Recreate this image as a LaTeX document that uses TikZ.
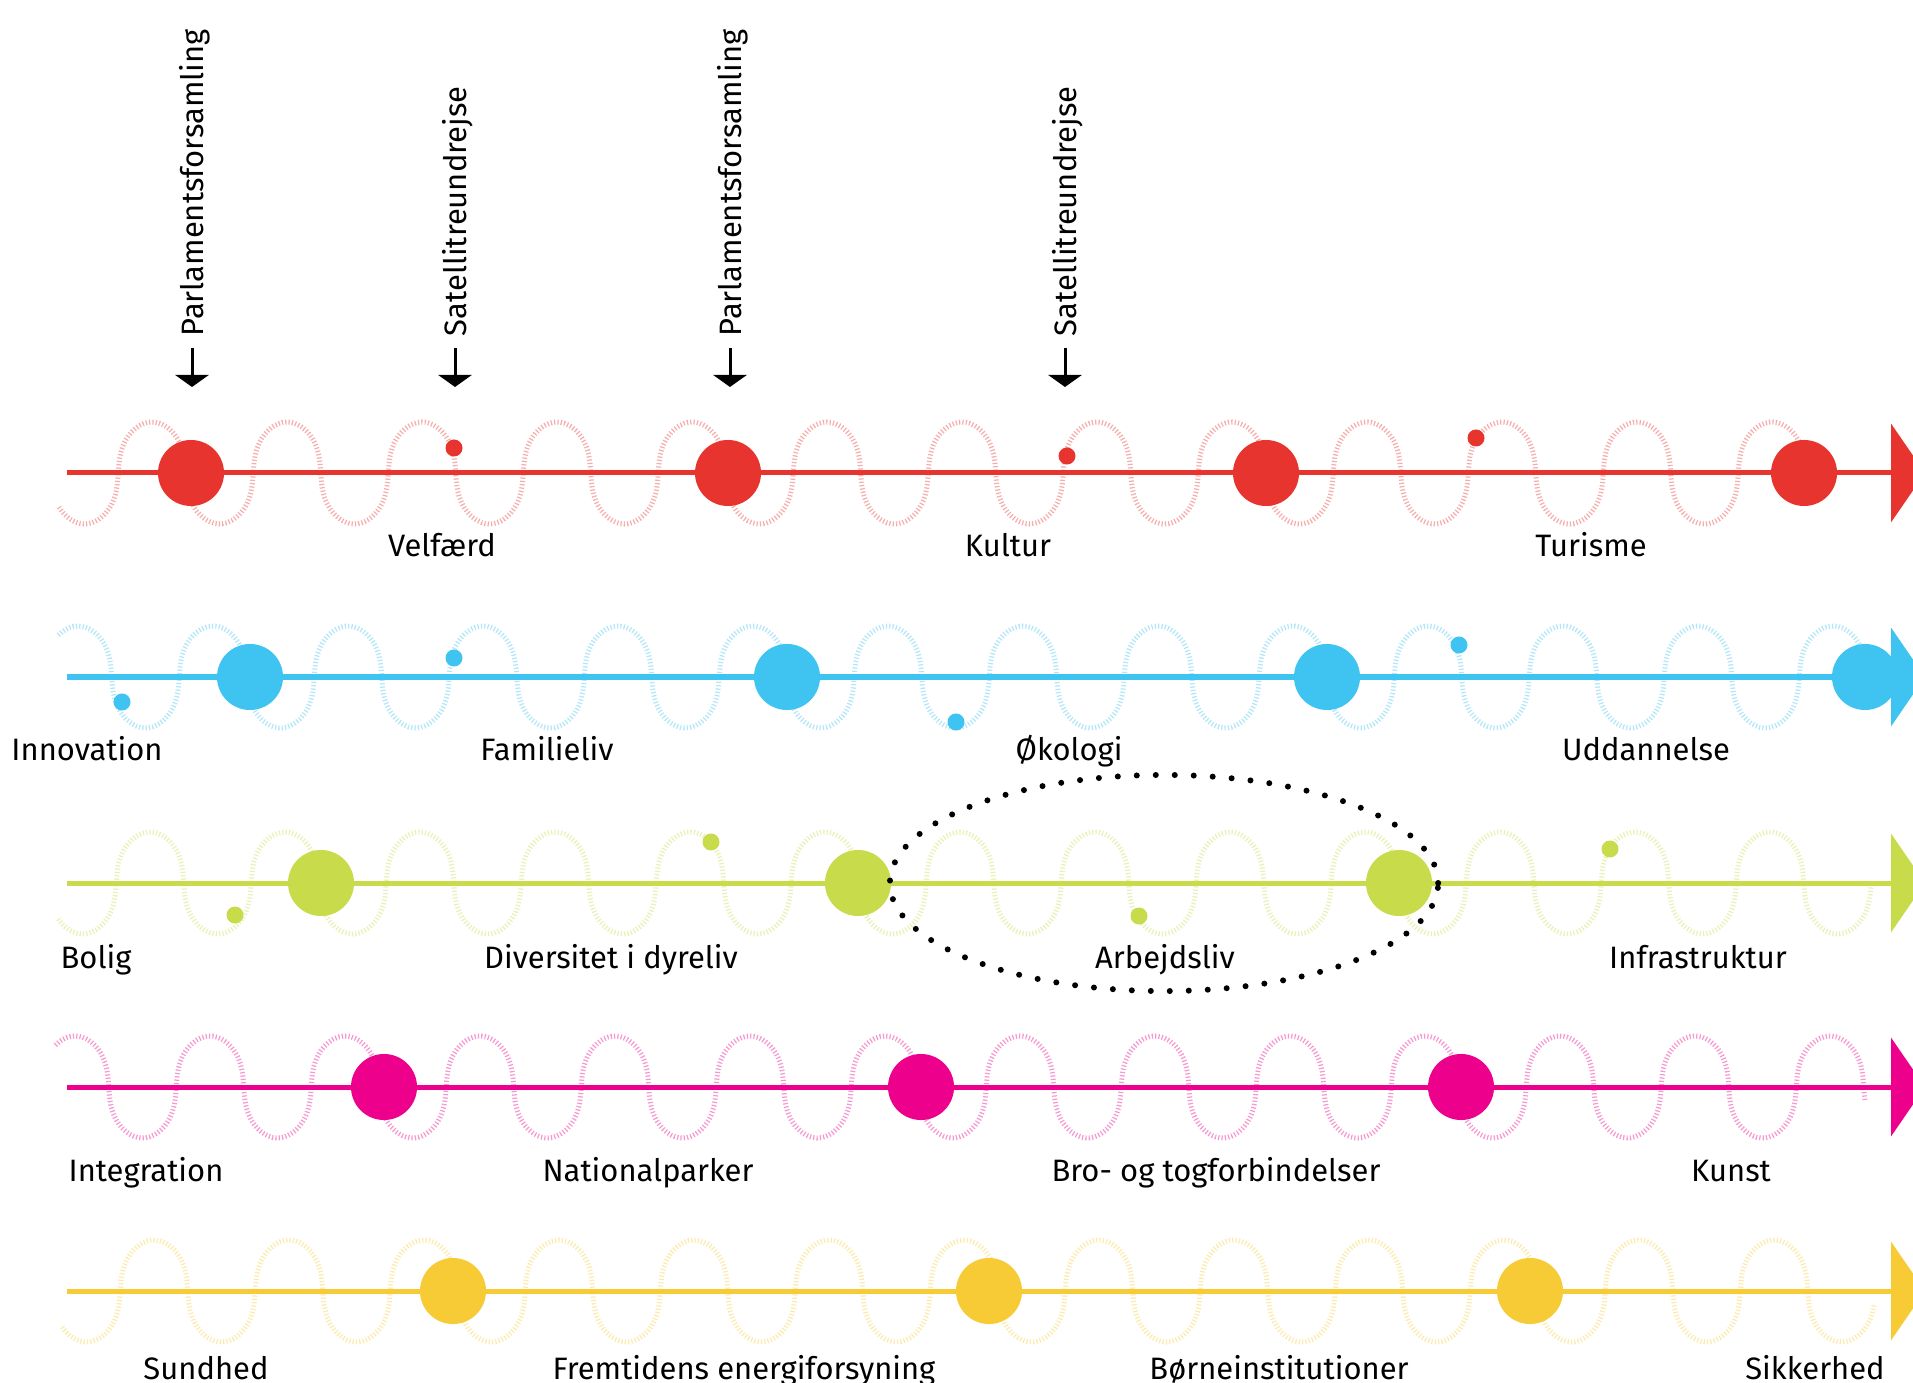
\documentclass[tikz,border=0pt]{standalone}
\usepackage{fontspec}
\setmainfont{Fira Sans}
\usetikzlibrary{arrows.meta}
\usetikzlibrary{shapes.geometric}

\definecolor{rowred}{HTML}{E8342F}
\definecolor{rowblue}{HTML}{3FC4F1}
\definecolor{rowgreen}{HTML}{C8DB4A}
\definecolor{rowpink}{HTML}{EC008C}
\definecolor{rowyellow}{HTML}{F7CB35}

\begin{document}
\begin{tikzpicture}[x=0.01cm,y=-0.01cm,
  font=\fontsize{8.8}{11}\selectfont,
  axis/.style={line width=0.05cm,-{Triangle[length=0.34cm,width=0.98cm]}},
  wave/.style={line width=0.05cm,dash pattern=on 0.35pt off 0.6pt},
  big/.style={circle,inner sep=0pt,minimum size=0.66cm},
  small/.style={circle,inner sep=0pt,minimum size=0.17cm},
  lbl/.style={anchor=base,inner sep=0pt},
  event/.style={rotate=90,anchor=base west,inner sep=0pt},
  marker/.style={line width=0.03cm,-{Triangle[length=0.12cm,width=0.33cm]}},
  focus/.style={ellipse,draw,line width=0.06cm,line cap=round,
    dash pattern=on 0pt off 5.4pt,minimum width=5.48cm,minimum height=2.16cm}]
\useasboundingbox (0,0) rectangle (1913,1383);

% waves and time lines
\foreach \r/\c/\yy/\ph/\ta/\tb in {r/rowred/473/152/-228/4435,b/rowblue/677/78/-35/4779,
    g/rowgreen/883/150/-225/4587,m/rowpink/1087/75/-35/4787,y/rowyellow/1291/154/-225/4576}{
  \draw[wave,\c!40] plot[domain=\ta:\tb,samples=700,smooth,variable=\t]
    ({\ph+0.375*\t+7.4*sin(2*\t)-1.6*sin(2*\t)*cos(2*\t)},{\yy-51*cos(\t)});
  \coordinate (\r-start) at (67,\yy);
  \coordinate (\r-end) at (1925,\yy);
  \draw[axis,\c] (\r-start) -- (\r-end);
}

% big circles
\foreach \cx [count=\i] in {191,728,1266,1804} \node[big,fill=rowred] (r\i) at (\cx,473) {};
\foreach \cx [count=\i] in {250,787,1327,1865} \node[big,fill=rowblue] (b\i) at (\cx,677) {};
\foreach \cx [count=\i] in {321,858,1399} \node[big,fill=rowgreen] (g\i) at (\cx,883) {};
\foreach \cx [count=\i] in {384,921,1461} \node[big,fill=rowpink] (m\i) at (\cx,1087) {};
\foreach \cx [count=\i] in {453,989,1530} \node[big,fill=rowyellow] (y\i) at (\cx,1291) {};

% small dots
\foreach \cx/\cy [count=\i] in {454/448,1067/456,1476/438} \node[small,fill=rowred] (rd\i) at (\cx,\cy) {};
\foreach \cx/\cy [count=\i] in {122/702,454/658,956/722,1459/645} \node[small,fill=rowblue] (bd\i) at (\cx,\cy) {};
\foreach \cx/\cy [count=\i] in {235/915,711/842,1139/916,1610/849} \node[small,fill=rowgreen] (gd\i) at (\cx,\cy) {};

% labels
\node[lbl] (velfaerd) at (442,557) {Velfærd};
\node[lbl] (kultur) at (1008,557) {Kultur};
\node[lbl] (turisme) at (1591,557) {Turisme};
\node[lbl] (innovation) at (87,760) {Innovation};
\node[lbl] (familieliv) at (547,760) {Familieliv};
\node[lbl] (okologi) at (1069,760) {Økologi};
\node[lbl] (uddannelse) at (1646,760) {Uddannelse};
\node[lbl] (bolig) at (96,968) {Bolig};
\node[lbl] (diversitet) at (611,968) {Diversitet i dyreliv};
\node[lbl] (arbejdsliv) at (1165,968) {Arbejdsliv};
\node[lbl] (infra) at (1698,968) {Infrastruktur};
\node[lbl] (integration) at (146,1181) {Integration};
\node[lbl] (natpark) at (648,1181) {Nationalparker};
\node[lbl] (bro) at (1216,1181) {Bro- og togforbindelser};
\node[lbl] (kunst) at (1731,1181) {Kunst};
\node[lbl] (sundhed) at (206,1379) {Sundhed};
\node[lbl] (energi) at (744,1379) {Fremtidens energiforsyning};
\node[lbl] (born) at (1279,1379) {Børneinstitutioner};
\node[lbl] (sikkerhed) at (1815,1379) {Sikkerhed};

% highlighted span
\node[focus] (arbejde) at (1164,883) {};

% events on top
\foreach \ex/\txt [count=\i] in {192/Parlamentsforsamling,455/Satellitreundrejse,
    730/Parlamentsforsamling,1065/Satellitreundrejse}{
  \node[event] (ev\i) at (\ex+11,337) {\txt};
  \coordinate (ev\i-a) at (\ex,348);
  \coordinate (ev\i-b) at (\ex,387);
  \draw[marker] (ev\i-a) -- (ev\i-b);
}
\end{tikzpicture}
\end{document}
